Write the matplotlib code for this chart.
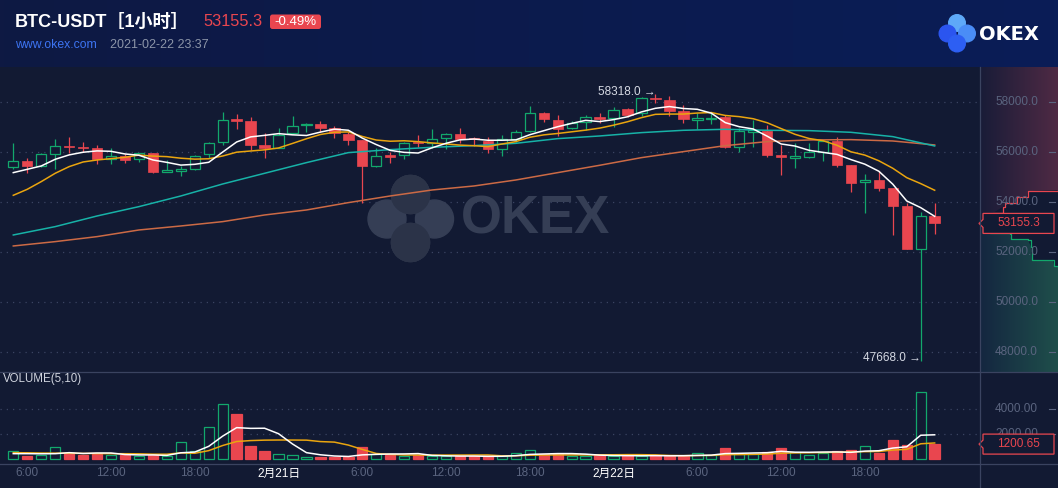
import numpy as np
import pandas as pd
import matplotlib
matplotlib.use('Agg')
import matplotlib.pyplot as plt
from matplotlib.patches import Rectangle, Circle, Polygon, FancyBboxPatch
from matplotlib.lines import Line2D
from matplotlib.transforms import Affine2D
from matplotlib.colors import to_rgb

plt.rcParams['font.family'] = ['Liberation Sans', 'Noto Sans CJK SC', 'DejaVu Sans']

# ---------------- data (hourly candles, 2021-02-20 05:00 .. 2021-02-22 23:00) ----------------
opens = [55400, 55653, 55467, 55920, 56240, 56200, 56173, 55733, 55840, 55720,
         55973, 55227, 55267, 55320, 55920, 56400, 57293, 57253, 56293, 56173,
         56760, 57080, 57133, 56960, 56733, 56493, 55467, 55853, 55880, 56387,
         56360, 56560, 56733, 56560, 56467, 56120, 56547, 56840, 57587, 57293,
         56960, 57213, 57413, 57373, 57720, 57560, 58147, 58093, 57653, 57307,
         57333, 57427, 56227, 56827, 56867, 55880, 55787, 55827, 56000, 56453,
         55493, 54800, 54893, 54587, 53853, 52147, 53453]
highs = [56373, 55773, 55960, 56533, 56613, 56413, 56293, 56160, 55933, 55987,
         55973, 55693, 55453, 55907, 56427, 57613, 57533, 57413, 56787, 56973,
         57453, 57160, 57253, 57053, 56827, 56493, 56160, 56027, 56427, 56693,
         56920, 56787, 56960, 56600, 56600, 56693, 56893, 57853, 57613, 57493,
         57267, 57480, 57560, 57800, 57760, 58200, 58318, 58253, 57893, 57587,
         57587, 57493, 56987, 57293, 57093, 56293, 56360, 56360, 56493, 56600,
         55493, 55120, 55267, 54587, 53960, 53600, 53960]
lows = [55347, 55187, 55400, 55347, 55987, 56013, 55547, 55547, 55587, 55627,
        55187, 55227, 55067, 55293, 55787, 56307, 56947, 56093, 55787, 56173,
        56720, 56813, 56800, 56587, 56280, 53987, 55427, 55560, 55720, 56227,
        56160, 56120, 56387, 56253, 55960, 55853, 56427, 56813, 57227, 56653,
        56920, 56893, 57187, 57027, 57427, 57453, 57960, 57467, 57187, 56920,
        57120, 56160, 56027, 56227, 55827, 55093, 55360, 55787, 55667, 55427,
        54427, 53587, 54453, 52707, 52120, 47668, 52733]
closes = [55640, 55467, 55920, 56240, 56213, 56173, 55733, 55840, 55707, 55960,
          55227, 55253, 55293, 55867, 56360, 57280, 57267, 56307, 56173, 56707,
          57040, 57133, 56987, 56760, 56493, 55467, 55840, 55827, 56360, 56360,
          56520, 56733, 56520, 56520, 56120, 56520, 56800, 57560, 57320, 56920,
          57187, 57400, 57320, 57707, 57493, 58160, 58120, 57667, 57320, 57333,
          57387, 56227, 56853, 56867, 55893, 55827, 55813, 56000, 56453, 55493,
          54787, 54893, 54587, 53867, 52133, 53453, 53155.3]
volumes = [646, 242, 296, 941, 430, 323, 430, 296, 323, 269,
           323, 242, 1345, 619, 2582, 4439, 3658, 1049, 673, 377,
           296, 161, 188, 188, 188, 941, 377, 323, 215, 323,
           215, 215, 215, 215, 215, 242, 457, 726, 377, 377,
           242, 242, 323, 215, 323, 215, 269, 269, 242, 457,
           323, 888, 377, 377, 565, 888, 538, 350, 457, 619,
           726, 1022, 511, 1533, 1130, 5380, 1200.65]

# moving-average values at the first candles (need history before the window)
ma5_head = [55187, 55320, 55453, 55720]
ma10_head = [54280, 54520, 54827, 55160, 55427, 55613, 55693, 55747, 55800]
vol_ma5_head = [430, 430, 420, 430]
vol_ma10_head = [510, 500, 480, 470, 460, 450, 440, 430, 425]

# slow MAs every 3rd candle
slow_idx = list(range(0, 67, 3))
ma30 = [52693, 53027, 53453, 53827, 54253, 54733, 55160, 55587, 55987, 56107, 56200, 56267,
        56360, 56547, 56653, 56787, 56880, 56920, 56880, 56867, 56800, 56627, 56253]
ma60 = [52253, 52427, 52627, 52893, 53053, 53227, 53493, 53693, 53987, 54253, 54493, 54653,
        54893, 55187, 55480, 55787, 56027, 56267, 56427, 56493, 56507, 56453, 56293]

tick_idx = [1, 7, 13, 19, 25, 31, 37, 43, 49, 55, 61]
tick_labels = ['6:00', '12:00', '18:00', '2月21日', '6:00', '12:00', '18:00', '2月22日', '6:00', '12:00', '18:00']
price_ticks = [48000, 50000, 52000, 54000, 56000, 58000]
vol_ticks = [2000, 4000]

# order-book depth (right strip): x = cumulative share (px across strip), price
ask_x = [0, 13, 23, 25, 35, 37, 47, 48, 78]
ask_p = [53155, 53572, 53824, 53960, 53960, 54224, 54224, 54452, 54492]
bid_x = [0, 10, 30, 31, 48, 51, 52, 73, 74, 78]
bid_p = [53155, 52760, 52732, 52532, 52492, 52224, 51692, 51692, 51464, 51424]

last_price = 53155.3
last_vol = 1200.65
change = '-0.49%'

# ---------------- style ----------------
W, H = 1058, 488
BG = '#121a33'
RED = '#e9464f'
GREEN = '#12a86c'
GRID = '#3a4462'
AX_TXT = '#5a647f'
SEP = '#3a4360'
WM = '#353e55'
WM_DARK = '#2b3348'

fig = plt.figure(figsize=(W / 100, H / 100), dpi=100)
fig.patch.set_facecolor(BG)
PX = Affine2D().scale(1, -1).translate(0, H)


def fr(x0, y0, x1, y1):
    return [x0 / W, 1 - y1 / H, (x1 - x0) / W, (y1 - y0) / H]


def grad(c0, c1, n=256):
    a, b = np.array(to_rgb(c0)), np.array(to_rgb(c1))
    t = np.linspace(0, 1, n)[:, None]
    return (a + (b - a) * t)[None, :, :]


# header band
axh = fig.add_axes(fr(0, 0, W, 67))
axh.imshow(grad('#0e1943', '#0a1d57'), extent=[0, 1, 0, 1], aspect='auto')
axh.set_axis_off()

X0, DX = 13.3, 13.96
xlim = (-X0 / DX, (980 - X0) / DX)
PY0, PY1 = 47212, 59412
VY0, VY1 = -403, 7012

# ---------------- main price axes ----------------
ax = fig.add_axes(fr(0, 67, 980, 372))
ax.set_axis_off()
ax.set_xlim(*xlim)
ax.set_ylim(PY0, PY1)
for p in price_ticks:
    ax.axhline(p, color=GRID, lw=0.9, ls=(0, (1, 4)), zorder=0.3)

# watermark
wm_centers = [(410.5, 194.5), (387, 219), (434.5, 219), (410.5, 242.5)]
wm_r = 19
for cx, cy in wm_centers:
    ax.add_patch(Circle((cx, cy), wm_r, transform=PX, color=WM, zorder=0.5, clip_on=False))
for a, b in [(0, 1), (0, 2), (3, 1), (3, 2)]:
    clipper = Circle(wm_centers[b], wm_r, transform=PX)
    lens = Circle(wm_centers[a], wm_r, transform=PX, color=WM_DARK, zorder=0.55, clip_on=False)
    ax.add_patch(lens)
    lens.set_clip_path(clipper)
ax.text(461, 220, 'OKEX', transform=PX, fontsize=38, fontweight='bold', color=WM,
        ha='left', va='center', zorder=0.5, family=['Liberation Sans'])

BW = 0.74
idx = np.arange(len(closes))
for i in idx:
    o, h, l, c = opens[i], highs[i], lows[i], closes[i]
    up = c >= o
    col = GREEN if up else RED
    top, bot = max(o, c), min(o, c)
    hgt = max(top - bot, 45)
    if up:
        ax.vlines(i, top, h, color=col, lw=0.9, zorder=2)
        ax.vlines(i, l, bot, color=col, lw=0.9, zorder=2)
        ax.add_patch(Rectangle((i - BW / 2, bot), BW, hgt, facecolor=BG, edgecolor=col, lw=0.9, zorder=2))
    else:
        ax.vlines(i, l, h, color=col, lw=0.9, zorder=2)
        ax.add_patch(Rectangle((i - BW / 2, bot), BW, hgt, facecolor=col, edgecolor=col, lw=0.5, zorder=2))

cs = pd.Series(closes, dtype=float)
ma5 = cs.rolling(5).mean().to_numpy()
ma5[:len(ma5_head)] = ma5_head
ma10 = cs.rolling(10).mean().to_numpy()
ma10[:len(ma10_head)] = ma10_head
ax.plot(slow_idx, ma60, color='#cc6a45', lw=1.1, zorder=3)
ax.plot(slow_idx, ma30, color='#17b2a7', lw=1.1, zorder=3)
ax.plot(idx, ma10, color='#eaa50f', lw=1.1, zorder=3)
ax.plot(idx, ma5, color='#ffffff', lw=1.1, zorder=3)

hi_i = int(np.argmax(highs))
lo_i = int(np.argmin(lows))
ax.text(hi_i, highs[hi_i] + 95, f'{highs[hi_i]:.1f} →', ha='right', va='center',
        color='#d5d9e3', fontsize=8.5, zorder=4)
ax.text(lo_i, lows[lo_i] + 105, f'{lows[lo_i]:.1f} →', ha='right', va='center',
        color='#d5d9e3', fontsize=8.5, zorder=4)

# ---------------- volume axes ----------------
axv = fig.add_axes(fr(0, 372, 980, 464))
axv.set_facecolor('none')
for s in axv.spines.values():
    s.set_visible(False)
axv.set_xlim(*xlim)
axv.set_ylim(VY0, VY1)
axv.set_yticks([])
for v in vol_ticks:
    axv.axhline(v, color=GRID, lw=0.9, ls=(0, (1, 4)), zorder=0.3)
ups = [c >= o for o, c in zip(opens, closes)]
axv.bar(idx, volumes, width=BW,
        color=[BG if u else RED for u in ups],
        edgecolor=[GREEN if u else RED for u in ups], linewidth=0.9, zorder=2)
vs = pd.Series(volumes, dtype=float)
vma5 = vs.rolling(5).mean().to_numpy()
vma5[:len(vol_ma5_head)] = vol_ma5_head
vma10 = vs.rolling(10).mean().to_numpy()
vma10[:len(vol_ma10_head)] = vol_ma10_head
axv.plot(idx, vma10, color='#eaa50f', lw=1.1, zorder=3)
axv.plot(idx, vma5, color='#ffffff', lw=1.1, zorder=3)
axv.set_xticks(tick_idx)
axv.set_xticklabels(tick_labels)
axv.tick_params(axis='x', length=0, pad=2.5, labelsize=8.5, colors=AX_TXT)
for lab in axv.get_xticklabels():
    if '月' in lab.get_text():
        lab.set_color('#ffffff')
fig.text(3, 379, 'VOLUME(5,10)', transform=PX, color='#d0d4de', fontsize=8.3, ha='left', va='center')

# ---------------- right strip (price) ----------------
axr = fig.add_axes(fr(980, 67, W, 372))
axr.set_axis_off()
ask_poly = Polygon(list(zip(ask_x, ask_p)) + [(78, PY1), (0, PY1)], closed=True,
                   facecolor='none', edgecolor='none')
bid_poly = Polygon(list(zip(bid_x, bid_p)) + [(78, PY0), (0, PY0)], closed=True,
                   facecolor='none', edgecolor='none')
axr.add_patch(ask_poly)
axr.add_patch(bid_poly)
im1 = axr.imshow(grad('#181c38', '#4f2a44'), extent=[0, 78, PY0, PY1], aspect='auto', zorder=1)
im1.set_clip_path(ask_poly)
im2 = axr.imshow(grad('#142640', '#1f4f4b'), extent=[0, 78, PY0, PY1], aspect='auto', zorder=1)
im2.set_clip_path(bid_poly)
axr.step(ask_x, ask_p, where='post', color=RED, lw=0.9, zorder=2)
axr.step(bid_x, bid_p, where='post', color=GREEN, lw=0.9, zorder=2)
axr.set_xlim(0, 78)
axr.set_ylim(PY0, PY1)
for p in price_ticks:
    axr.text(58, p, f'{p:.1f}', ha='right', va='center', color=AX_TXT, fontsize=8.5, zorder=3)
    axr.plot([69, 75], [p, p], color=AX_TXT, lw=0.8, zorder=3)
ppx = (PY1 - PY0) / 305.0
box = Polygon([(3, last_price + 10 * ppx), (74, last_price + 10 * ppx), (74, last_price - 10 * ppx),
               (3, last_price - 10 * ppx), (3, last_price - 4 * ppx), (-1, last_price),
               (3, last_price + 4 * ppx)], closed=True, facecolor=BG, edgecolor=RED, lw=0.9,
              zorder=4, clip_on=False)
axr.add_patch(box)
axr.text(38.5, last_price, f'{last_price:.1f}', ha='center', va='center', color=RED, fontsize=8.5, zorder=5)

# ---------------- right strip (volume) ----------------
axvr = fig.add_axes(fr(980, 372, W, 464))
axvr.set_axis_off()
axvr.set_xlim(0, 78)
axvr.set_ylim(VY0, VY1)
for v in vol_ticks:
    axvr.text(58, v, f'{v:.2f}', ha='right', va='center', color=AX_TXT, fontsize=8.5, zorder=3)
    axvr.plot([69, 75], [v, v], color=AX_TXT, lw=0.8, zorder=3)
vpx = (VY1 - VY0) / 92.0
vbox = Polygon([(3, last_vol + 10 * vpx), (74, last_vol + 10 * vpx), (74, last_vol - 10 * vpx),
                (3, last_vol - 10 * vpx), (3, last_vol - 4 * vpx), (-1, last_vol),
                (3, last_vol + 4 * vpx)], closed=True, facecolor=BG, edgecolor=RED, lw=0.9,
               zorder=4, clip_on=False)
axvr.add_patch(vbox)
axvr.text(38.5, last_vol, f'{last_vol:.2f}', ha='center', va='center', color=RED, fontsize=8.5, zorder=5)

# separators
fig.add_artist(Line2D([0, W], [372, 372], transform=PX, color=SEP, lw=0.9))
fig.add_artist(Line2D([0, W], [464, 464], transform=PX, color=SEP, lw=0.9))
fig.add_artist(Line2D([980, 980], [67, H], transform=PX, color=SEP, lw=0.9))

# ---------------- header texts ----------------
fig.text(15, 22, 'BTC-USDT［1小时］', transform=PX, color='white', fontsize=13, fontweight='bold',
         ha='left', va='center')
fig.text(203, 22, f'{last_price:.1f}', transform=PX, color=RED, fontsize=11.8, ha='left', va='center')
fig.add_artist(FancyBboxPatch((270, 14.5), 51, 14.5, boxstyle='round,pad=0,rounding_size=2.5',
                              transform=PX, facecolor=RED, edgecolor='none'))
fig.text(295.5, 22, change, transform=PX, color='white', fontsize=9.5, ha='center', va='center')
fig.text(15, 45, 'www.okex.com', transform=PX, color='#3d74f2', fontsize=8.8, ha='left', va='center')
fig.text(110, 45, '2021-02-22 23:37', transform=PX, color='#8c95a8', fontsize=9, ha='left', va='center')

# header logo
for (cx, cy), colr in zip([(957, 23), (967, 33.5), (947.5, 33.5), (957, 43.5)],
                          ['#5ea9f8', '#4a8df6', '#2b55ef', '#2d5ff3']):
    fig.add_artist(Circle((cx, cy), 8.3, transform=PX, color=colr))
fig.text(979, 34, 'OKEX', transform=PX, color='white', fontsize=14, fontweight='bold',
         ha='left', va='center', family=['DejaVu Sans'])

fig.savefig('out.png', dpi=100, facecolor=BG)
